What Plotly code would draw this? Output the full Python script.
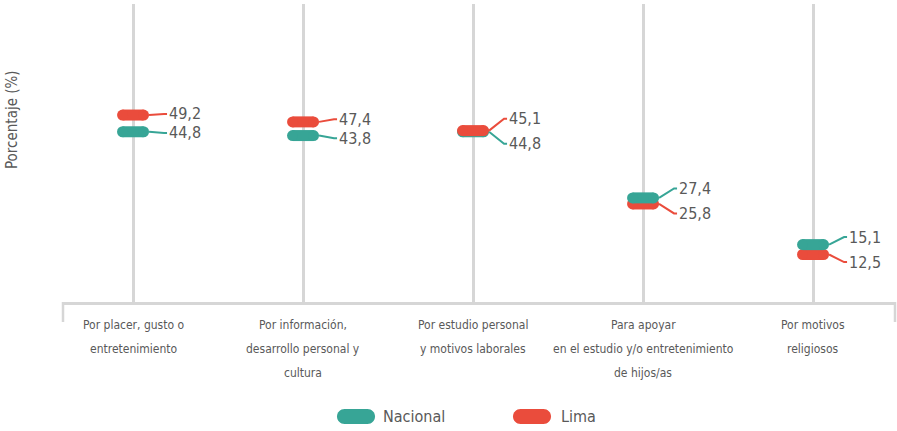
import plotly.graph_objects as go

categories = [
    "Por placer, gusto o<br>entretenimiento",
    "Por información,<br>desarrollo personal y<br>cultura",
    "Por estudio personal<br>y motivos laborales",
    "Para apoyar<br>en el estudio y/o entretenimiento<br>de hijos/as",
    "Por motivos<br>religiosos",
]
nacional = [44.8, 43.8, 44.8, 27.4, 15.1]
lima = [49.2, 47.4, 45.1, 25.8, 12.5]
series_names = ["Nacional", "Lima"]
y_title = "Porcentaje (%)"

TEAL = "#37a596"
RED = "#ea4c3c"
GRID = "#d6d6d6"
TXT = "#595959"
FONT = "DejaVu Sans Condensed, DejaVu Sans, sans-serif"

W, H = 897, 431
ML, MR, MT, MB = 63, 2, 4, 129
plot_w = W - ML - MR
plot_h = H - MT - MB
x_range = [-0.412, 4.482]
px_per_cat = plot_w / (x_range[1] - x_range[0])
y_top = plot_h / 3.8
y_range = [0, y_top]
ppu = plot_h / (y_range[1] - y_range[0])

fig = go.Figure()
shapes = []
annotations = []

pill_half = 10.5 / px_per_cat
for i in range(len(categories)):
    pts = [(nacional[i], TEAL, "n"), (lima[i], RED, "l")]
    vals = {"n": nacional[i] * ppu, "l": lima[i] * ppu}
    dpx = abs(vals["l"] - vals["n"])
    hi, lo = ("l", "n") if lima[i] >= nacional[i] else ("n", "l")
    shifts = {"n": 0.0, "l": 0.0}
    if dpx < 12:
        mid = (vals["l"] + vals["n"]) / 2
        shifts[hi] = mid + 12.5 - vals[hi]
        shifts[lo] = mid - 12.5 - vals[lo]
    elif dpx < 19:
        extra = (19 - dpx) / 2
        shifts[hi] = extra
        shifts[lo] = -extra
    for v, col, key in sorted(pts, key=lambda p: p[0]):
        fig.add_trace(go.Scatter(
            x=[i - pill_half, i + pill_half], y=[v, v],
            mode="lines+markers",
            line=dict(color=col, width=11),
            marker=dict(color=col, size=11, symbol="circle"),
            showlegend=False, hoverinfo="skip", cliponaxis=False,
        ))
    for v, col, key in pts:
        dy = shifts[key]
        shapes.append(dict(
            type="path", xref="x", yref="y",
            xsizemode="pixel", ysizemode="pixel",
            xanchor=i, yanchor=v,
            path=f"M 16 0 L 31 {dy:.2f} L 34 {dy:.2f}",
            line=dict(color=col, width=2),
        ))
        annotations.append(dict(
            x=i, y=v, xref="x", yref="y",
            text=f"{v:.1f}".replace(".", ","),
            showarrow=False, xanchor="left", yanchor="middle",
            xshift=35, yshift=dy, borderpad=0,
            font=dict(family=FONT, size=16, color=TXT),
        ))
    for k, line in enumerate(categories[i].split("<br>")):
        annotations.append(dict(
            x=i, y=0, xref="x", yref="paper",
            text=line, showarrow=False,
            xanchor="center", yanchor="middle",
            yshift=-(23 + 24 * k),
            font=dict(family=FONT, size=12, color=TXT),
        ))

for xp in [0, 1]:
    shapes.append(dict(
        type="line", xref="paper", yref="paper",
        ysizemode="pixel", yanchor=0,
        x0=xp, x1=xp, y0=0, y1=-20,
        line=dict(color=GRID, width=2.5),
    ))

annotations.append(dict(
    x=(12 - ML) / plot_w, y=(H - MB - 120) / plot_h,
    xref="paper", yref="paper", text=y_title, textangle=-90,
    showarrow=False, xanchor="center", yanchor="middle",
    font=dict(family=FONT, size=15, color=TXT),
))

def pill_path(a, r):
    k = 0.5523 * r
    return (f"M {-a} {r} L {a} {r} C {a + k} {r} {a + r} {k} {a + r} 0 "
            f"C {a + r} {-k} {a + k} {-r} {a} {-r} L {-a} {-r} "
            f"C {-a - k} {-r} {-a - r} {-k} {-a - r} 0 "
            f"C {-a - r} {k} {-a - k} {r} {-a} {r} Z")

leg_y = (H - MB - 416.5) / plot_h
for name, col, cx, tx in [(series_names[0], TEAL, 356, 381), (series_names[1], RED, 532, 559)]:
    shapes.append(dict(
        type="path", xref="paper", yref="paper",
        xsizemode="pixel", ysizemode="pixel",
        xanchor=(cx - ML) / plot_w, yanchor=leg_y,
        path=pill_path(11.5, 7.5),
        fillcolor=col, line=dict(width=0),
    ))
    annotations.append(dict(
        x=(tx - ML) / plot_w, y=leg_y, xref="paper", yref="paper",
        text=name, showarrow=False, xanchor="left", yanchor="middle",
        font=dict(family=FONT, size=16, color=TXT),
    ))

fig.update_layout(
    width=W, height=H,
    margin=dict(l=ML, r=MR, t=MT, b=MB),
    paper_bgcolor="white", plot_bgcolor="white",
    showlegend=False, hovermode=False,
    shapes=shapes, annotations=annotations,
    xaxis=dict(
        range=x_range, tickvals=list(range(len(categories))),
        showticklabels=False, showgrid=True, gridcolor=GRID, gridwidth=3,
        zeroline=False, showline=True, linecolor=GRID, linewidth=2.5,
        ticks="", fixedrange=True,
    ),
    yaxis=dict(
        range=y_range, showgrid=False, zeroline=False, showline=False,
        showticklabels=False, ticks="", fixedrange=True,
    ),
)

fig.write_html("out.html", config={"displayModeBar": False},
               post_script="document.body.style.margin='0';")
